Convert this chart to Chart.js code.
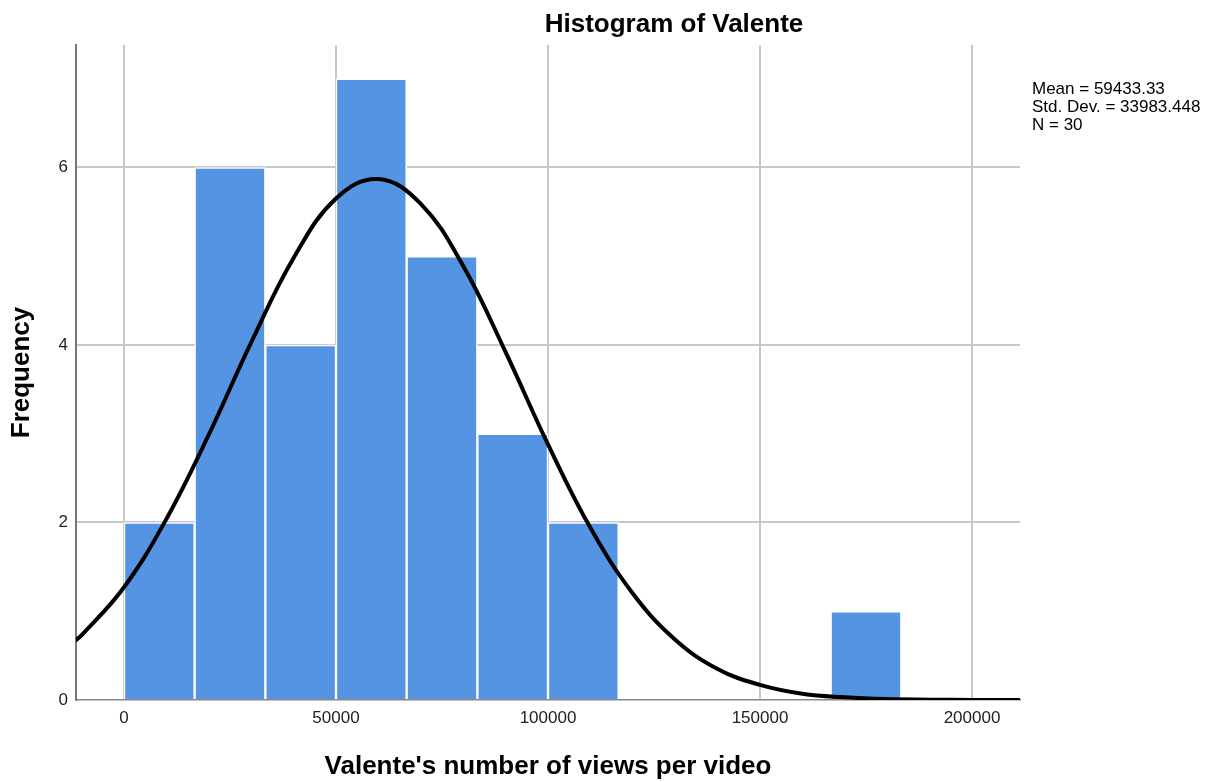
<!DOCTYPE html>
<html>
<head>
<meta charset="utf-8">
<script src="https://cdn.jsdelivr.net/npm/chart.js@4"></script>
<style>
  html, body { margin: 0; padding: 0; background: #ffffff; }
  #wrap { width: 1213px; height: 782px; }
</style>
</head>
<body>
<div id="wrap"><canvas id="hist" width="1213" height="782"></canvas></div>
<script>
// histogram bins (bin centres, width 16666.7) and counts
const binCenters = [8333, 25000, 41667, 58333, 75000, 91667, 108333, 125000, 141667, 158333, 175000, 191667];
const binCounts = [2, 6, 4, 7, 5, 3, 2, 0, 0, 0, 1, 0];

// normal curve
const curveX = [-12000, -10000, 0, 10000, 20000, 30000, 40000, 50000, 60000, 70000, 80000, 90000,
    100000, 110000, 120000, 130000, 140000, 150000, 160000, 170000, 180000, 190000, 200000, 212000];
const curveY = [0.65, 0.73, 1.27, 2.04, 2.99, 4.03, 4.98, 5.65, 5.87, 5.59, 4.89, 3.92,
    2.88, 1.94, 1.2, 0.68, 0.35, 0.17, 0.07, 0.03, 0.01, 0.004, 0, 0];

const xTicks = [0, 50000, 100000, 150000, 200000];
const yTicks = [0, 2, 4, 6];

const statLines = ["Mean = 59433.33", "Std. Dev. = 33983.448", "N = 30"];

const FONT = "'Liberation Sans', Arial, sans-serif";

const textPlugin = {
    id: "textPlugin",
    afterDraw(chart) {
        const ctx = chart.ctx;
        const area = chart.chartArea;
        ctx.save();
        ctx.fillStyle = "#000";
        ctx.textBaseline = "middle";

        ctx.font = "bold 26px " + FONT;
        ctx.textAlign = "center";
        ctx.fillText("Histogram of Valente", 674, 25);

        ctx.fillText("Valente's number of views per video", (area.left + area.right) / 2, 767);

        ctx.translate(22, (area.top + area.bottom) / 2);
        ctx.rotate(-Math.PI / 2);
        ctx.fillText("Frequency", 0, 0);
        ctx.restore();

        ctx.save();
        ctx.fillStyle = "#000";
        ctx.font = "17px " + FONT;
        ctx.textAlign = "left";
        ctx.textBaseline = "middle";
        statLines.forEach((s, i) => ctx.fillText(s, 1032, 89 + i * 18));
        ctx.restore();
    },
};

new Chart(document.getElementById("hist"), {
    data: {
        datasets: [
            {
                type: "line",
                data: curveX.map((x, i) => ({ x: x, y: curveY[i] })),
                borderColor: "#000000",
                borderWidth: 4,
                pointRadius: 0,
                tension: 0.4,
                fill: false,
                order: 0,
            },
            {
                type: "bar",
                data: binCenters.map((x, i) => ({ x: x, y: binCounts[i] })),
                backgroundColor: "#5594e3",
                borderColor: "#ffffff",
                borderWidth: 1.5,
                borderSkipped: "bottom",
                barPercentage: 1,
                categoryPercentage: 1,
                order: 1,
            },
        ],
    },
    options: {
        responsive: false,
        animation: false,
        layout: {
            padding: { top: 45, right: 193, left: 0, bottom: 0 },
        },
        plugins: {
            legend: { display: false },
            tooltip: { enabled: false },
            title: { display: false },
        },
        scales: {
            x: {
                type: "linear",
                offset: false,
                min: -11321,
                max: 211320,
                afterBuildTicks: (s) => {
                    s.ticks = xTicks.map((v) => ({ value: v }));
                },
                afterFit: (s) => {
                    s.height = 82;
                },
                ticks: {
                    color: "#222",
                    font: { family: FONT, size: 17 },
                    padding: 8,
                    maxRotation: 0,
                    callback: (v) => String(v),
                },
                grid: {
                    offset: false,
                    color: "#c8c8c8",
                    lineWidth: 2,
                    drawTicks: false,
                },
                border: { color: "#888", width: 1.5 },
            },
            y: {
                min: 0,
                max: 7.38,
                afterBuildTicks: (s) => {
                    s.ticks = yTicks.map((v) => ({ value: v }));
                },
                afterFit: (s) => {
                    s.width = 76;
                },
                ticks: {
                    color: "#222",
                    font: { family: FONT, size: 17 },
                    padding: 8,
                },
                grid: {
                    color: (c) => (c.tick && c.tick.value === 0 ? "rgba(0,0,0,0)" : "#c8c8c8"),
                    lineWidth: 2,
                    drawTicks: false,
                },
                border: { color: "#777", width: 2 },
            },
        },
    },
    plugins: [textPlugin],
});
</script>
</body>
</html>
